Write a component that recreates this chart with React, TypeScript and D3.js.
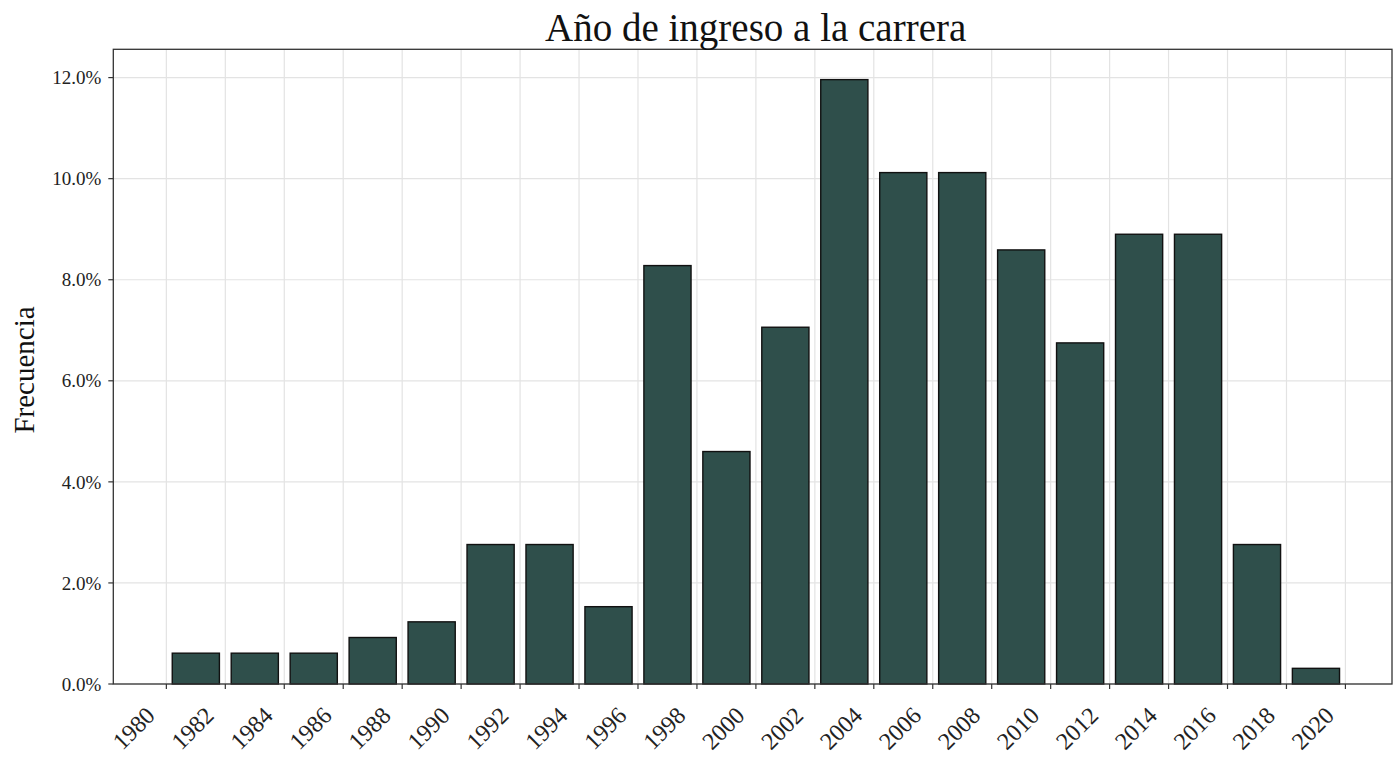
import React, { useEffect, useRef } from "react";
import * as d3 from "d3";

// bin start years (each bin is 2 years wide)
const binStarts = [1980, 1982, 1984, 1986, 1988, 1990, 1992, 1994, 1996, 1998,
  2000, 2002, 2004, 2006, 2008, 2010, 2012, 2014, 2016, 2018];
// frequency (%) per bin
const freq = [0.61, 0.61, 0.61, 0.92, 1.23, 2.76, 2.76, 1.53, 8.28, 4.6,
  7.06, 11.96, 10.12, 10.12, 8.59, 6.75, 8.9, 8.9, 2.76, 0.31];
const xTicks = d3.range(1980, 2021, 2);
const yTicks = [0, 2, 4, 6, 8, 10, 12];

const FONT = "'Liberation Serif', 'DejaVu Serif', serif";

export default function App() {
  const ref = useRef<SVGSVGElement>(null);

  useEffect(() => {
    const W = 1393, H = 758;
    const left = 113.3, right = 1392, top = 49.3, bottom = 684;

    const svg = d3.select(ref.current).html("")
      .attr("width", W).attr("height", H);

    const x = d3.scaleLinear().domain([1978.2, 2021.58]).range([left, right]);
    const y = d3.scaleLinear().domain([0, 12.56]).range([bottom, top]);

    svg.append("rect").attr("width", W).attr("height", H).attr("fill", "#fff");

    // grid
    const grid = svg.append("g").attr("stroke", "#e3e3e3").attr("stroke-width", 1.2);
    grid.selectAll(".vx").data(xTicks).enter().append("line")
      .attr("x1", d => x(d)).attr("x2", d => x(d))
      .attr("y1", top).attr("y2", bottom);
    grid.selectAll(".hy").data(yTicks).enter().append("line")
      .attr("x1", left).attr("x2", right)
      .attr("y1", d => y(d)).attr("y2", d => y(d));

    // bars (rwidth 0.8)
    svg.selectAll(".bar").data(binStarts).enter().append("rect")
      .attr("x", d => x(d + 0.2))
      .attr("width", d => x(d + 1.8) - x(d + 0.2))
      .attr("y", (d, i) => y(freq[i]))
      .attr("height", (d, i) => bottom - y(freq[i]))
      .attr("fill", "#2f4f4b")
      .attr("stroke", "#111")
      .attr("stroke-width", 1.4);

    // spines
    svg.append("rect")
      .attr("x", left).attr("y", top)
      .attr("width", right - left).attr("height", bottom - top)
      .attr("fill", "none").attr("stroke", "#333").attr("stroke-width", 1.3);

    // x axis ticks and labels
    const xg = svg.append("g");
    xg.selectAll("line").data(xTicks).enter().append("line")
      .attr("x1", d => x(d)).attr("x2", d => x(d))
      .attr("y1", bottom).attr("y2", bottom + 5)
      .attr("stroke", "#333").attr("stroke-width", 1.2);
    xg.selectAll("text").data(xTicks).enter().append("text")
      .attr("transform", d => `translate(${x(d) - 10},${bottom + 33}) rotate(-45)`)
      .attr("text-anchor", "end")
      .attr("font-family", FONT).attr("font-size", 24).attr("fill", "#222")
      .text(d => String(d));

    // y axis ticks and labels
    const yg = svg.append("g");
    yg.selectAll("line").data(yTicks).enter().append("line")
      .attr("x1", left - 5).attr("x2", left)
      .attr("y1", d => y(d)).attr("y2", d => y(d))
      .attr("stroke", "#333").attr("stroke-width", 1.2);
    yg.selectAll("text").data(yTicks).enter().append("text")
      .attr("x", left - 12).attr("y", d => y(d)).attr("dy", "0.35em")
      .attr("text-anchor", "end")
      .attr("font-family", FONT).attr("font-size", 19).attr("fill", "#222")
      .text(d => d3.format(".1f")(d) + "%");

    // title and y label
    svg.append("text")
      .attr("x", (left + 1398) / 2).attr("y", 41)
      .attr("text-anchor", "middle")
      .attr("font-family", FONT).attr("font-size", 39).attr("fill", "#111")
      .text("Año de ingreso a la carrera");

    svg.append("text")
      .attr("transform", `translate(34,370) rotate(-90)`)
      .attr("text-anchor", "middle")
      .attr("font-family", FONT).attr("font-size", 29).attr("fill", "#111")
      .text("Frecuencia");
  }, []);

  return (
    <svg ref={ref} style={{ position: "absolute", left: 0, top: 0, display: "block" }} />
  );
}
